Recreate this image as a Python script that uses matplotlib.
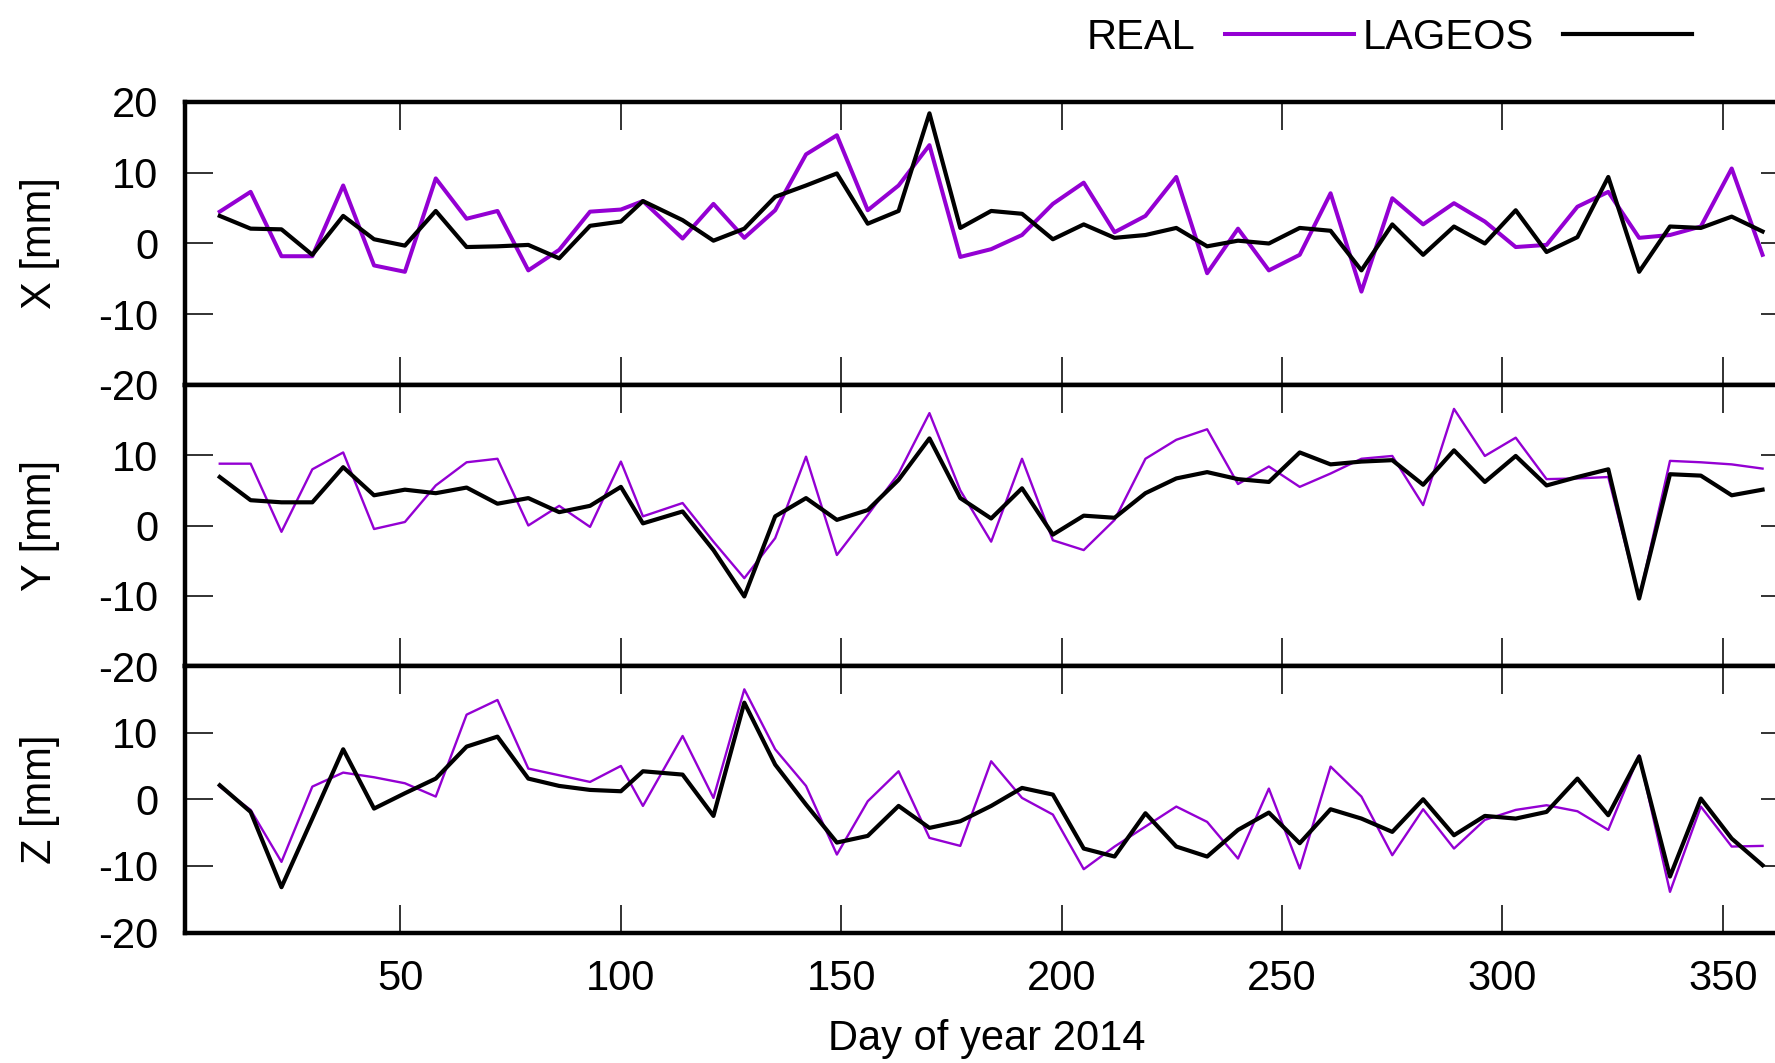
import matplotlib.pyplot as plt

plt.rcParams['font.family'] = ['Liberation Sans', 'DejaVu Sans']
plt.rcParams['font.size'] = 30

# weekly solutions, day of year 2014
days = [9, 16, 23, 30, 37, 44, 51, 58, 65, 72, 79, 86, 93, 100, 105,
        114, 121, 128, 135, 142, 149, 156, 163, 170, 177, 184, 191, 198,
        205, 212, 219, 226, 233, 240, 247, 254, 261, 268, 275, 282, 289,
        296, 303, 310, 317, 324, 331, 338, 345, 352, 359]

# X component [mm]
real_x = [4.5, 7.3, -1.8, -1.8, 8.2, -3.1, -4.0, 9.2, 3.5, 4.6, -3.8, -0.9, 4.5,
          4.8, 6.0, 0.7, 5.6, 0.8, 4.7, 12.6, 15.3, 4.7, 8.2, 13.9, -1.9, -0.8,
          1.2, 5.6, 8.6, 1.6, 3.9, 9.4, -4.2, 2.1, -3.8, -1.6, 7.1, -6.8, 6.4,
          2.7, 5.7, 3.1, -0.5, -0.2, 5.2, 7.3, 0.8, 1.2, 2.4, 10.6, -1.6]
lageos_x = [3.9, 2.1, 2.0, -1.6, 3.9, 0.6, -0.3, 4.6, -0.5, -0.4, -0.2, -2.1, 2.5,
            3.1, 6.0, 3.3, 0.4, 2.1, 6.6, 8.2, 9.9, 2.8, 4.6, 18.4, 2.2, 4.6,
            4.2, 0.6, 2.7, 0.8, 1.2, 2.2, -0.4, 0.4, 0.0, 2.2, 1.8, -3.8, 2.7,
            -1.6, 2.4, 0.0, 4.7, -1.2, 0.9, 9.4, -4.0, 2.4, 2.2, 3.8, 1.7]

# Y component [mm]
real_y = [8.8, 8.8, -0.9, 8.0, 10.4, -0.5, 0.5, 5.7, 9.0, 9.5, 0.0, 2.8, -0.2,
          9.1, 1.3, 3.2, -2.3, -7.5, -1.8, 9.8, -4.2, 1.5, 7.4, 16.0, 5.0, -2.3,
          9.5, -2.1, -3.5, 0.8, 9.5, 12.2, 13.7, 5.9, 8.4, 5.5, 7.4, 9.5, 9.9,
          2.9, 16.6, 9.9, 12.5, 6.6, 6.7, 6.9, -10.4, 9.2, 9.0, 8.7, 8.1]
lageos_y = [6.9, 3.6, 3.3, 3.3, 8.3, 4.3, 5.1, 4.6, 5.4, 3.1, 3.9, 1.9, 2.8,
            5.5, 0.3, 2.0, -3.5, -10.1, 1.3, 3.9, 0.8, 2.2, 6.5, 12.4, 3.9, 1.0,
            5.3, -1.3, 1.4, 1.1, 4.6, 6.7, 7.6, 6.6, 6.2, 10.4, 8.7, 9.1, 9.3,
            5.8, 10.7, 6.2, 9.9, 5.7, 6.9, 8.0, -10.4, 7.3, 7.1, 4.3, 5.1]

# Z component [mm]
real_z = [1.9, -1.6, -9.4, 1.9, 4.0, 3.3, 2.4, 0.4, 12.7, 14.9, 4.6, 3.6, 2.6,
          5.0, -1.0, 9.5, 0.2, 16.5, 7.5, 2.0, -8.3, -0.3, 4.2, -5.8, -7.0, 5.7,
          0.2, -2.3, -10.5, -7.1, -4.1, -1.1, -3.4, -8.9, 1.6, -10.4, 4.9, 0.4,
          -8.4, -1.5, -7.4, -3.1, -1.6, -0.9, -1.8, -4.6, 6.6, -13.9, -1.1, -7.1, -7.0]
lageos_z = [2.1, -1.9, -13.2, -2.9, 7.5, -1.4, 0.9, 3.1, 7.9, 9.4, 3.1, 2.0, 1.4,
            1.2, 4.2, 3.7, -2.5, 14.5, 5.2, -0.8, -6.5, -5.5, -1.0, -4.3, -3.3, -1.0,
            1.7, 0.7, -7.4, -8.6, -2.1, -7.1, -8.6, -4.6, -2.0, -6.6, -1.5, -2.9,
            -4.9, 0.0, -5.4, -2.5, -2.9, -1.9, 3.1, -2.4, 6.4, -11.6, 0.1, -5.9, -9.9]

components = ['X', 'Y', 'Z']
real_series = [real_x, real_y, real_z]
lageos_series = [lageos_x, lageos_y, lageos_z]
real_widths = [2.9, 1.7, 1.7]

x_ticks = [50, 100, 150, 200, 250, 300, 350]
y_ticks = [-20, -10, 0, 10, 20]

PURPLE = '#9400d3'
W, H = 1775, 1063
fig = plt.figure(figsize=(W / 100, H / 100), dpi=100)

# panel frames in pixels (the right border falls just outside the image)
left, right = 184.5, 1789
panels = [(102, 385), (385, 666), (666, 932.5)]

axes = []
for i, (top, bottom) in enumerate(panels):
    ax = fig.add_axes([left / W, 1 - bottom / H, (right - left) / W, (bottom - top) / H])
    l_real, = ax.plot(days, real_series[i], color=PURPLE, lw=real_widths[i], zorder=2)
    l_lag, = ax.plot(days, lageos_series[i], color='black', lw=3.0, zorder=3)
    if i == 0:
        handles = [l_real, l_lag]

    ax.set_xlim(1, 365)
    ax.set_ylim(-20, 20)
    ax.set_xticks(x_ticks)
    ax.set_yticks(y_ticks)
    if i == 0:
        ax.set_yticklabels(['-20', '-10', '0', '10', '20'])
    else:
        ax.set_yticklabels(['-20', '-10', '0', '10', ''])
    ax.tick_params(direction='in', length=20, width=1.3, color='#222222',
                   top=True, right=True, labelsize=30, pad=19,
                   labelbottom=(i == 2))
    for s in ax.spines.values():
        s.set_linewidth(3.2)

    ax.set_ylabel(f'{components[i]} [mm]', fontsize=30, va='center')
    ax.yaxis.set_label_coords((40 - left) / (right - left), 0.5)
    axes.append(ax)

axes[2].set_xlabel('Day of year 2014', fontsize=30, va='center')
axes[2].xaxis.set_label_coords(0.5, (panels[2][1] - 1039) / (panels[2][1] - panels[2][0]))

fig.legend(handles=handles, labels=['REAL', 'LAGEOS'], loc='center left',
           bbox_to_anchor=(1087 / W, 1 - 38 / H), ncol=2, frameon=False,
           markerfirst=False, handlelength=3.1, handletextpad=0.7,
           columnspacing=0.2, borderpad=0, borderaxespad=0, fontsize=30)

fig.savefig('out.png', dpi=100)
